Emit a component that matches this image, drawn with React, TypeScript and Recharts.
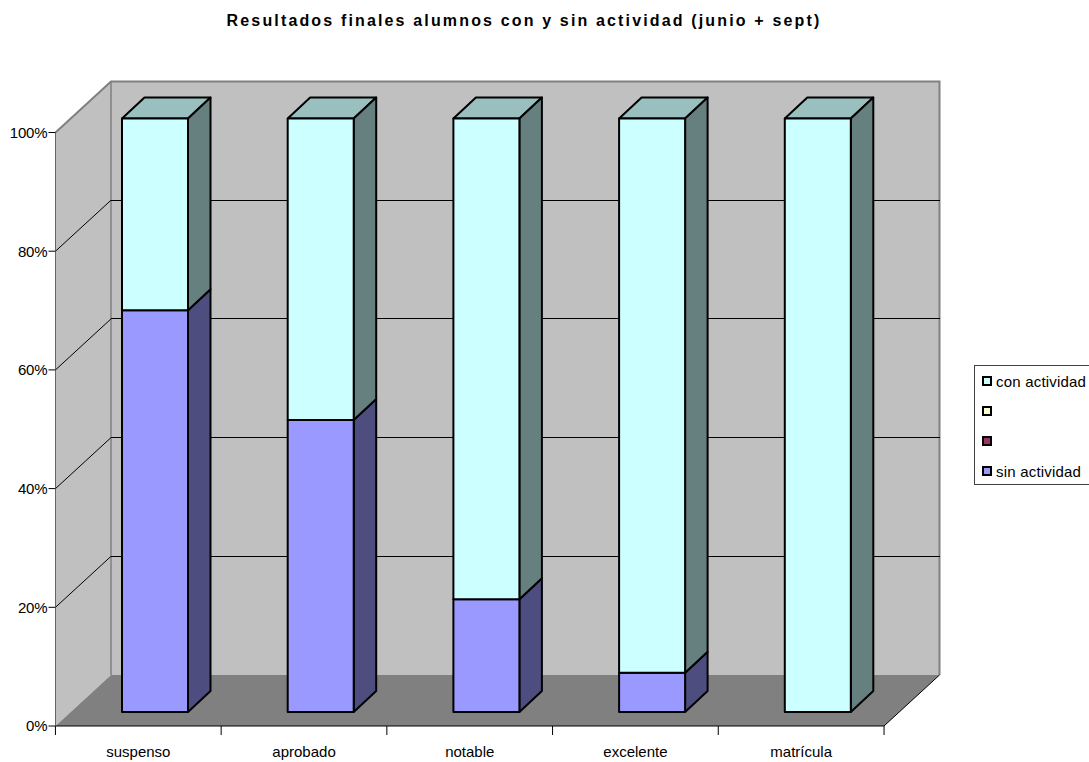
import React from 'react';
import { BarChart, Bar, XAxis, YAxis, CartesianGrid, Legend, usePlotArea } from 'recharts';

const categories = ['suspenso', 'aprobado', 'notable', 'excelente', 'matrícula'];
const sinActividad = [67.7, 49.2, 19.0, 6.6, 0];
const serieRoja = [0, 0, 0, 0, 0];
const serieAmarilla = [0, 0, 0, 0, 0];
const conActividad = [32.3, 50.8, 81.0, 93.4, 100];
const yTicks = [0, 20, 40, 60, 80, 100];

const chartData = categories.map((name, i) => ({
    name,
    sin: sinActividad[i],
    roja: serieRoja[i],
    amarilla: serieAmarilla[i],
    con: conActividad[i],
}));

const FONT = '"Liberation Sans", Arial, sans-serif';
// depth of the box behind the plot, and of the bars inside it
const WALL_DX = 55.5;
const WALL_DY = 51;
const BAR_DX = 22.5;
const BAR_DY = 21;
const BAR_SHIFT_X = 16.5;
const BAR_SHIFT_Y = 14;

function Walls() {
    const plot = usePlotArea();
    if (!plot) return null;
    const left = plot.x;
    const right = plot.x + plot.width;
    const top = plot.y;
    const bottom = plot.y + plot.height;
    return (
        <g>
            <polygon
                points={`${left},${top} ${left + WALL_DX},${top - WALL_DY} ${left + WALL_DX},${bottom - WALL_DY} ${left},${bottom}`}
                fill="#C0C0C0"
            />
            <rect x={left + WALL_DX} y={top - WALL_DY} width={plot.width} height={plot.height} fill="#C0C0C0" />
            <polygon
                points={`${left},${bottom} ${left + WALL_DX},${bottom - WALL_DY} ${right + WALL_DX},${bottom - WALL_DY} ${right},${bottom}`}
                fill="#808080"
            />
            <polyline
                points={`${left},${top} ${left + WALL_DX},${top - WALL_DY} ${right + WALL_DX},${top - WALL_DY} ${right + WALL_DX},${bottom - WALL_DY}`}
                fill="none"
                stroke="#808080"
                strokeWidth={2}
            />
            <line x1={left + WALL_DX} y1={top - WALL_DY} x2={left + WALL_DX} y2={bottom - WALL_DY} stroke="#808080" strokeWidth={1.5} />
            <line x1={right} y1={bottom} x2={right + WALL_DX} y2={bottom - WALL_DY} stroke="#000" />
        </g>
    );
}

// gridline folded along the left wall and across the back wall
function FoldedGridLine(props: any) {
    const { x1, x2, y1, index } = props;
    if (index === 0 || index === yTicks.length - 1) return <g key={index} />;
    return (
        <g key={index}>
            <line x1={x1} y1={y1} x2={x1 + WALL_DX} y2={y1 - WALL_DY} stroke="#000" strokeWidth={1} />
            <line
                x1={x1 + WALL_DX}
                y1={y1 - WALL_DY}
                x2={x2 + WALL_DX}
                y2={y1 - WALL_DY}
                stroke="#000"
                strokeWidth={1}
                shapeRendering="crispEdges"
            />
        </g>
    );
}

function Box3D(props: any) {
    const { x, y, width, height, fill, side, topFace, drawTop } = props;
    if (!height || height <= 0) return <g />;
    const fx = x + BAR_SHIFT_X;
    const fy = y - BAR_SHIFT_Y;
    const stroke = { stroke: '#000', strokeWidth: 2, strokeLinejoin: 'round' as const };
    return (
        <g>
            {drawTop && (
                <polygon
                    points={`${fx},${fy} ${fx + BAR_DX},${fy - BAR_DY} ${fx + width + BAR_DX},${fy - BAR_DY} ${fx + width},${fy}`}
                    fill={topFace}
                    {...stroke}
                />
            )}
            <polygon
                points={`${fx + width},${fy} ${fx + width + BAR_DX},${fy - BAR_DY} ${fx + width + BAR_DX},${fy + height - BAR_DY} ${fx + width},${fy + height}`}
                fill={side}
                {...stroke}
            />
            <rect x={fx} y={fy} width={width} height={height} fill={fill} {...stroke} />
        </g>
    );
}

function CategoryTick(props: any) {
    const { x, y, payload, index } = props;
    const band = 165.8;
    return (
        <g>
            <line x1={x - band / 2} y1={y - 8} x2={x - band / 2} y2={y + 1} stroke="#000" />
            {index === categories.length - 1 && (
                <line x1={x + band / 2} y1={y - 8} x2={x + band / 2} y2={y + 1} stroke="#000" />
            )}
            <text x={x} y={y + 23} textAnchor="middle" fontFamily={FONT} fontSize={15} fill="#000">
                {payload.value}
            </text>
        </g>
    );
}

function LegendBox({ payload }: any) {
    const rows = [...(payload || [])].reverse();
    return (
        <div
            style={{
                width: 125,
                height: 120,
                boxSizing: 'border-box',
                border: '1px solid #404040',
                background: '#fff',
                fontFamily: FONT,
                fontSize: 15,
                letterSpacing: 0.2,
                color: '#000',
            }}
        >
            {rows.map((row: any) => (
                <div key={row.dataKey} style={{ height: 30, display: 'flex', alignItems: 'center', paddingLeft: 7 }}>
                    <span
                        style={{
                            width: 6,
                            height: 6,
                            border: '2px solid #000',
                            background: row.color,
                            marginRight: 4,
                            flex: 'none',
                        }}
                    />
                    <span style={{ whiteSpace: 'nowrap' }}>{row.value}</span>
                </div>
            ))}
        </div>
    );
}

export default function App() {
    return (
        <div style={{ position: 'absolute', left: 0, top: 0, width: 1089, height: 762, overflow: 'hidden', background: '#fff' }}>
            <BarChart
                width={1089}
                height={762}
                data={chartData}
                margin={{ top: 132.5, right: 80, bottom: 0, left: 0 }}
                barSize={66}
            >
                <Walls />
                <CartesianGrid vertical={false} horizontal={FoldedGridLine} zIndex={1} />
                <XAxis dataKey="name" height={36} axisLine={{ stroke: '#000' }} tickLine={false} interval={0} tick={CategoryTick} />
                <YAxis
                    width={55.5}
                    domain={[0, 100]}
                    ticks={yTicks}
                    interval={0}
                    tickFormatter={(v: number) => `${v}%`}
                    axisLine={{ stroke: '#666' }}
                    tickLine={{ stroke: '#000' }}
                    tickSize={7}
                    tickMargin={1}
                    tick={{ fontFamily: FONT, fontSize: 15, letterSpacing: -0.15, fill: '#000' }}
                />
                <Bar dataKey="sin" name="sin actividad" stackId="a" fill="#9999FF" isAnimationActive={false}
                    shape={(p: any) => <Box3D {...p} side="#4D4D80" topFace="#7373BF" />} />
                <Bar dataKey="roja" name=" " stackId="a" fill="#993366" isAnimationActive={false}
                    shape={(p: any) => <Box3D {...p} side="#4D1A33" topFace="#73264D" />} />
                <Bar dataKey="amarilla" name="  " stackId="a" fill="#FFFFCC" isAnimationActive={false}
                    shape={(p: any) => <Box3D {...p} side="#808066" topFace="#BFBF99" />} />
                <Bar dataKey="con" name="con actividad" stackId="a" fill="#CCFFFF" isAnimationActive={false}
                    shape={(p: any) => <Box3D {...p} side="#668080" topFace="#99BFBF" drawTop />} />
                <Legend
                    layout="vertical"
                    align="right"
                    verticalAlign="middle"
                    itemSorter={null}
                    content={LegendBox}
                    wrapperStyle={{ left: 974, top: 365, right: 'auto', bottom: 'auto', width: 125 }}
                />
                <text x={524} y={26} textAnchor="middle" fontFamily={FONT} fontSize={16} fontWeight="bold" letterSpacing={2.15} fill="#000">
                    Resultados finales alumnos con y sin actividad (junio + sept)
                </text>
            </BarChart>
        </div>
    );
}
